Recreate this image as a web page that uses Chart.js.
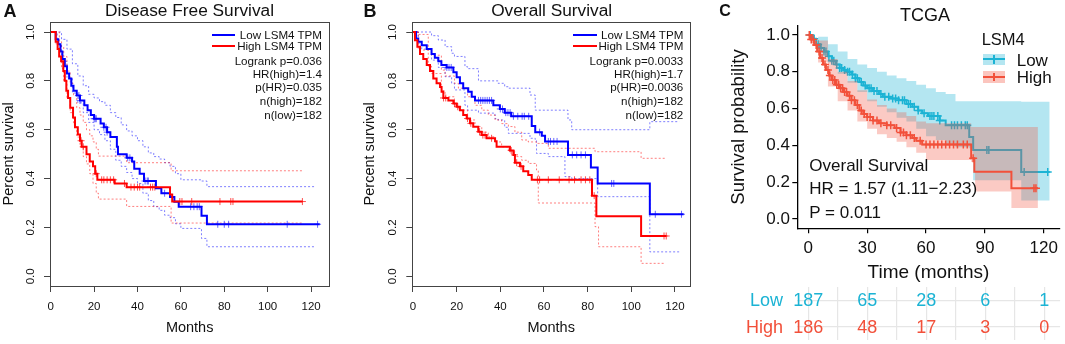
<!DOCTYPE html>
<html>
<head>
<meta charset="utf-8">
<script src="https://cdn.jsdelivr.net/npm/chart.js@4.4.0/dist/chart.umd.min.js"></script>
<style>
body{margin:0;width:1065px;height:344px;background:#fff;position:relative;overflow:hidden;font-family:"Liberation Sans",Arial,sans-serif;color:#111}
canvas{position:absolute}
.t{position:absolute;white-space:nowrap;line-height:1}
.c{transform:translate(-50%,-50%)}
.r{transform:translate(-100%,-50%)}
.l{transform:translate(0,-50%)}
.ln{position:absolute;height:2px}
</style>
</head>
<body>
<canvas id="cA" width="340" height="344" style="left:0;top:0"></canvas>
<canvas id="cB" width="345" height="344" style="left:355px;top:0"></canvas>
<canvas id="cC" width="350" height="285" style="left:715px;top:0"></canvas>
<canvas id="cR" width="350" height="59" style="left:715px;top:285px"></canvas>

<!-- panel A texts -->
<div class="t c" style="left:10px;top:10.5px;font-size:18px;font-weight:bold">A</div>
<div class="t c" style="left:189.5px;top:11px;font-size:17.3px">Disease Free Survival</div>
<div class="ln" style="left:212px;top:33.5px;width:23px;background:#0000ff"></div>
<div class="ln" style="left:212px;top:44.8px;width:23px;background:#ff0000"></div>
<div class="t r" style="left:322px;top:34.5px;font-size:11.6px">Low LSM4 TPM</div>
<div class="t r" style="left:322px;top:45.8px;font-size:11.6px">High LSM4 TPM</div>
<div class="t r" style="left:322px;top:60.7px;font-size:11.6px">Logrank p=0.036</div>
<div class="t r" style="left:322px;top:74px;font-size:11.6px">HR(high)=1.4</div>
<div class="t r" style="left:322px;top:87.4px;font-size:11.6px">p(HR)=0.035</div>
<div class="t r" style="left:322px;top:100.8px;font-size:11.6px">n(high)=182</div>
<div class="t r" style="left:322px;top:114.6px;font-size:11.6px">n(low)=182</div>

<!-- panel B texts -->
<div class="t c" style="left:370px;top:10.5px;font-size:18px;font-weight:bold">B</div>
<div class="t c" style="left:551.7px;top:11px;font-size:17.3px">Overall Survival</div>
<div class="ln" style="left:573.3px;top:33.5px;width:23.4px;background:#0000ff"></div>
<div class="ln" style="left:573.3px;top:44.8px;width:23.4px;background:#ff0000"></div>
<div class="t r" style="left:683.3px;top:34.5px;font-size:11.6px">Low LSM4 TPM</div>
<div class="t r" style="left:683.3px;top:45.8px;font-size:11.6px">High LSM4 TPM</div>
<div class="t r" style="left:683.3px;top:60.7px;font-size:11.6px">Logrank p=0.0033</div>
<div class="t r" style="left:683.3px;top:74px;font-size:11.6px">HR(high)=1.7</div>
<div class="t r" style="left:683.3px;top:87.4px;font-size:11.6px">p(HR)=0.0036</div>
<div class="t r" style="left:683.3px;top:100.8px;font-size:11.6px">n(high)=182</div>
<div class="t r" style="left:683.3px;top:114.6px;font-size:11.6px">n(low)=182</div>

<!-- panel C texts -->
<div class="t c" style="left:725px;top:10.5px;font-size:16px;font-weight:bold">C</div>
<div class="t c" style="left:925px;top:15px;font-size:18px">TCGA</div>
<div class="t l" style="left:809.3px;top:165px;font-size:17px">Overall Survival</div>
<div class="t l" style="left:809.3px;top:188.3px;font-size:17px">HR = 1.57 (1.11−2.23)</div>
<div class="t l" style="left:809.3px;top:212px;font-size:17px">P = 0.011</div>
<div class="t l" style="left:981.7px;top:39px;font-size:16.5px">LSM4</div>
<div style="position:absolute;left:983.3px;top:53.5px;width:21.7px;height:11.5px;background:rgba(27,179,212,0.33)"></div>
<div class="ln" style="left:983.3px;top:58.3px;width:21.7px;background:#1bb3d4"></div>
<div style="position:absolute;left:993.4px;top:55px;width:1.5px;height:8.5px;background:#1bb3d4"></div>
<div style="position:absolute;left:983.3px;top:71px;width:21.7px;height:11.5px;background:rgba(242,80,58,0.33)"></div>
<div class="ln" style="left:983.3px;top:75.8px;width:21.7px;background:#f2503a"></div>
<div style="position:absolute;left:993.4px;top:72.5px;width:1.5px;height:8.5px;background:#f2503a"></div>
<div class="t l" style="left:1016.7px;top:59.5px;font-size:17px">Low</div>
<div class="t l" style="left:1016.7px;top:77px;font-size:17px">High</div>

<script>
// ---------- panel A : disease free survival (GEPIA) ----------
const aLowT = [0, 2.3, 3.5, 4.5, 5.4, 6.5, 7.5, 8.5, 9.5, 10.5, 12, 13.5, 15.5, 17, 18.5, 20, 23, 24.5, 26, 27.5, 30.5, 31, 35, 37.5, 38.5, 41, 43, 48.5, 51, 55, 57, 59, 69.5, 72, 124];
const aLowS = [1, 0.97, 0.95, 0.92, 0.89, 0.86, 0.83, 0.81, 0.78, 0.76, 0.74, 0.72, 0.70, 0.68, 0.66, 0.645, 0.625, 0.61, 0.59, 0.57, 0.53, 0.50, 0.485, 0.47, 0.44, 0.42, 0.39, 0.36, 0.34, 0.325, 0.305, 0.285, 0.248, 0.213, 0.213];
const aLowCens = [13, 13.5, 20, 20.5, 21, 24.5, 25.5, 26, 35.5, 36.5, 43.5, 44.5, 45, 52.5, 64.5, 66, 67.5, 68.5, 77, 80, 82, 109, 123];
const aHighT = [0, 2.3, 3.2, 3.9, 4.8, 5.8, 6.5, 7.2, 8, 9, 10.3, 11.2, 12.5, 13.5, 14.3, 16.5, 18, 19.5, 20.5, 21.5, 29.5, 35, 55, 56, 116];
const aHighS = [1, 0.96, 0.93, 0.90, 0.88, 0.84, 0.80, 0.76, 0.73, 0.69, 0.65, 0.61, 0.58, 0.555, 0.53, 0.50, 0.47, 0.45, 0.42, 0.395, 0.38, 0.365, 0.335, 0.306, 0.306];
const aHighCens = [14, 15, 21, 23.5, 24.5, 26, 27.5, 29, 34, 37, 38.5, 40, 41, 46, 47, 48, 59.5, 60.5, 65, 78, 83, 84, 116];
const aLowCiT = [0, 3, 5, 7.5, 10, 12.5, 15, 17.5, 20, 22.5, 25, 27.5, 30, 32.5, 35, 37.5, 40, 42.5, 45, 47.5, 50, 52.5, 55, 57.5, 60, 69.5, 72, 122];
const aLowUp = [1, 1, 0.97, 0.93, 0.87, 0.82, 0.78, 0.745, 0.73, 0.715, 0.70, 0.67, 0.65, 0.62, 0.595, 0.575, 0.555, 0.53, 0.505, 0.49, 0.48, 0.465, 0.45, 0.42, 0.395, 0.39, 0.367, 0.367];
const aLowLo = [1, 0.95, 0.88, 0.81, 0.75, 0.71, 0.67, 0.63, 0.60, 0.58, 0.555, 0.52, 0.475, 0.45, 0.425, 0.40, 0.38, 0.34, 0.31, 0.285, 0.27, 0.25, 0.24, 0.215, 0.196, 0.155, 0.121, 0.121];
const aHighCiT = [0, 2.5, 4, 5, 6, 7.5, 9, 10.5, 12, 13.5, 15, 16.5, 18, 19.5, 21, 22, 30, 35, 55.5, 116];
const aHighUp = [1, 1, 0.96, 0.94, 0.90, 0.84, 0.79, 0.74, 0.69, 0.66, 0.63, 0.60, 0.575, 0.55, 0.52, 0.492, 0.492, 0.465, 0.432, 0.432];
const aHighLo = [1, 0.95, 0.90, 0.85, 0.80, 0.73, 0.67, 0.62, 0.57, 0.53, 0.49, 0.46, 0.42, 0.38, 0.34, 0.316, 0.316, 0.286, 0.218, 0.218];

// ---------- panel B : overall survival (GEPIA) ----------
const bLowT = [0, 1.4, 2.4, 4, 6.3, 8.5, 10, 11.6, 13, 15.4, 18.5, 20, 21.5, 23, 25.3, 26.9, 28.4, 36.8, 39.8, 42, 45, 54.4, 56, 59, 60.5, 71, 81.5, 84.6, 108.5, 124];
const bLowS = [1, 0.973, 0.96, 0.946, 0.93, 0.91, 0.895, 0.88, 0.865, 0.855, 0.835, 0.815, 0.79, 0.77, 0.755, 0.735, 0.72, 0.70, 0.685, 0.67, 0.655, 0.615, 0.59, 0.575, 0.552, 0.497, 0.445, 0.38, 0.254, 0.254];
const bLowCens = [15.5, 16.5, 17.5, 30, 31, 32, 33, 34, 35, 36, 40, 41, 42.5, 43.5, 44.5, 46, 48, 50, 51, 53, 58, 62, 63, 64.5, 66, 73, 75, 77, 79, 91, 92, 111, 123];
const bHighT = [0, 0.9, 2, 3.2, 4.7, 6.3, 7.8, 9.3, 10.8, 12.4, 13.1, 13.9, 16.2, 18.5, 20, 21.5, 23, 24.6, 26.1, 27.6, 29.9, 31.4, 33.7, 37.6, 38.3, 44.4, 46, 46.7, 49, 50.5, 52.8, 54.4, 82, 84, 104.5, 116];
const bHighS = [1, 0.966, 0.94, 0.91, 0.89, 0.865, 0.84, 0.81, 0.79, 0.775, 0.755, 0.73, 0.72, 0.707, 0.694, 0.68, 0.66, 0.646, 0.626, 0.612, 0.592, 0.578, 0.565, 0.553, 0.53, 0.515, 0.497, 0.465, 0.45, 0.43, 0.415, 0.395, 0.33, 0.246, 0.165, 0.165];
const bHighCens = [14, 15, 19, 20.5, 25, 26.5, 30.5, 32, 33, 36, 45, 46.5, 47.5, 49.5, 57, 58, 62, 67, 71.5, 74, 77, 79, 81, 83, 115, 116];
const bLowCiT = [0, 2.4, 4, 8.5, 11.6, 14.7, 17.7, 19, 23.8, 25, 30, 37.6, 39, 42, 43.7, 53.6, 56, 56.6, 62, 69.6, 71, 72.7, 84.6, 108.5, 122];
const bLowUp = [1, 1, 1, 0.985, 0.967, 0.94, 0.913, 0.90, 0.858, 0.85, 0.80, 0.80, 0.79, 0.776, 0.77, 0.742, 0.68, 0.68, 0.68, 0.68, 0.64, 0.60, 0.60, 0.633, 0.633];
const bLowLo = [1, 0.954, 0.93, 0.885, 0.855, 0.817, 0.79, 0.763, 0.70, 0.68, 0.668, 0.645, 0.64, 0.61, 0.585, 0.565, 0.558, 0.503, 0.49, 0.408, 0.408, 0.40, 0.326, 0.10, 0.10];
const bHighCiT = [0, 2.4, 7, 8.5, 13, 14.7, 19, 20.8, 25, 28.4, 31.5, 34.5, 37.6, 40.6, 43.7, 46.7, 49.8, 52.8, 56.6, 57.4, 62, 83.4, 85, 104.5, 115.4];
const bHighUp = [1, 0.99, 0.926, 0.905, 0.844, 0.82, 0.79, 0.77, 0.735, 0.70, 0.68, 0.66, 0.64, 0.625, 0.613, 0.59, 0.558, 0.55, 0.544, 0.544, 0.524, 0.51, 0.51, 0.483, 0.483];
const bHighLo = [1, 0.926, 0.86, 0.83, 0.76, 0.735, 0.70, 0.68, 0.64, 0.613, 0.59, 0.571, 0.55, 0.53, 0.51, 0.49, 0.475, 0.462, 0.435, 0.30, 0.30, 0.203, 0.121, 0.053, 0.053];

// ---------- panel C : TCGA overall survival ----------
const cLowT = [0, 2, 4, 6, 8, 10, 12, 14, 16, 18, 20, 22, 24, 26, 28, 30, 33, 36, 38, 42, 46, 50, 53, 56, 58, 61, 67, 70, 82, 84, 108.5, 123];
const cLowS = [1, 0.98, 0.95, 0.93, 0.91, 0.885, 0.86, 0.84, 0.82, 0.81, 0.80, 0.785, 0.765, 0.745, 0.725, 0.71, 0.695, 0.68, 0.665, 0.655, 0.645, 0.625, 0.61, 0.59, 0.575, 0.56, 0.535, 0.51, 0.445, 0.375, 0.255, 0.255];
const cLowCens = [1, 3, 5, 6.5, 8, 9, 10.5, 12, 13, 14.5, 16, 17, 18.5, 20, 21, 22.5, 24, 25, 27, 29, 31, 32, 33.5, 35, 37, 39, 41, 43, 44.5, 46, 48, 49, 51, 52, 54, 56, 59, 62, 63, 64, 66, 67, 73, 74.5, 76, 78, 80, 81, 91, 92, 110, 122];
const cHighT = [0, 1.5, 3, 4.5, 6, 7.5, 9, 10.5, 12, 14, 16, 18, 20, 22, 24, 26, 28, 30, 33, 36, 40, 44, 47, 50, 53, 55, 58, 83, 84.6, 103.5, 117];
const cHighS = [1, 0.975, 0.945, 0.91, 0.875, 0.84, 0.81, 0.78, 0.755, 0.73, 0.71, 0.69, 0.67, 0.645, 0.62, 0.59, 0.57, 0.555, 0.535, 0.52, 0.51, 0.495, 0.47, 0.455, 0.44, 0.425, 0.405, 0.33, 0.257, 0.167, 0.167];
const cHighCens = [0.5, 1.5, 2.5, 4, 5.5, 7, 8.5, 10, 11, 12.5, 13.5, 14.5, 15.5, 16.5, 17.5, 18.5, 19.5, 21, 22, 23.5, 25, 27, 28.5, 30, 31.5, 33, 35, 37, 40, 42, 45, 47, 48.5, 50, 52, 54, 57, 60, 62, 64, 66, 68, 70, 72, 74, 76, 79, 81, 84, 115, 116];
const cLowCiT = [0, 5, 10, 15, 20, 25, 30, 35, 40, 45, 50, 55, 60, 65, 70, 75, 82, 84, 108.5, 123];
const cLowUp = [1, 0.99, 0.95, 0.91, 0.87, 0.84, 0.82, 0.80, 0.78, 0.765, 0.75, 0.73, 0.71, 0.69, 0.68, 0.64, 0.64, 0.64, 0.637, 0.637];
const cLowLo = [1, 0.92, 0.85, 0.79, 0.74, 0.69, 0.64, 0.61, 0.58, 0.55, 0.53, 0.49, 0.45, 0.43, 0.41, 0.39, 0.385, 0.21, 0.10, 0.10];
const cHighCiT = [0, 5, 10, 15, 20, 25, 30, 35, 40, 45, 50, 55, 60, 83, 85, 103.5, 117];
const cHighUp = [1, 0.97, 0.87, 0.80, 0.75, 0.70, 0.65, 0.62, 0.60, 0.58, 0.56, 0.53, 0.52, 0.50, 0.50, 0.50, 0.50];
const cHighLo = [1, 0.85, 0.72, 0.64, 0.59, 0.53, 0.49, 0.46, 0.44, 0.42, 0.39, 0.36, 0.32, 0.31, 0.15, 0.06, 0.06];

// number at risk table
const riskRows = ['Low', 'High'];
const riskTimes = [0, 30, 60, 90, 120];
const riskLow = [187, 65, 28, 6, 1];
const riskHigh = [186, 48, 17, 3, 0];

// tick values
const gepiaXTicks = [0, 20, 40, 60, 80, 100, 120];
const cXTicks = [0, 30, 60, 90, 120];
const survTicks = [0, 0.2, 0.4, 0.6, 0.8, 1.0];
const riskGrid = [0, 15, 30, 45, 60, 75, 90, 105, 120];

const FONT = '"Liberation Sans", Arial, sans-serif';
Chart.defaults.font.family = FONT;
Chart.defaults.color = '#111';

const RED = '#ff0000', BLUE = '#0000ff';
const C_LOW = '#1bb3d4', C_HIGH = '#f2503a';

function pts(T, S) { return T.map((t, i) => ({ x: t, y: S[i] })); }
function stepAt(T, S, t) {
    let v = S[0];
    for (let i = 0; i < T.length; i++) if (T[i] <= t) v = S[i];
    return v;
}
function cens(T, S, C) { return C.map(t => ({ x: t, y: stepAt(T, S, t) })); }
function fixTicks(vals) { return s => { s.ticks = vals.map(v => ({ value: v })); }; }

// R style box around the plot region
const boxPlugin = {
    id: 'box',
    afterDraw(chart) {
        const a = chart.chartArea, c = chart.ctx;
        c.save();
        c.strokeStyle = '#444';
        c.lineWidth = 1;
        c.strokeRect(Math.round(a.left) + 0.5, Math.round(a.top) + 0.5, Math.round(a.right - a.left), Math.round(a.bottom - a.top));
        c.restore();
    }
};

function gepia(id, p) {
    const dot = (T, S, col) => ({ data: pts(T, S), borderColor: col, borderWidth: 1, borderDash: [2, 2], stepped: true, pointRadius: 0 });
    const mark = (T, S, C, col) => ({ data: cens(T, S, C), showLine: false, pointStyle: 'cross', pointRadius: 3.5, borderColor: col, pointBorderColor: col, pointBorderWidth: 1 });
    return new Chart(document.getElementById(id), {
        type: 'line',
        data: {
            datasets: [
                { data: pts(p.hT, p.hS), borderColor: RED, borderWidth: 2, stepped: true, pointRadius: 0 },
                { data: pts(p.lT, p.lS), borderColor: BLUE, borderWidth: 2, stepped: true, pointRadius: 0 },
                mark(p.hT, p.hS, p.hC, 'rgba(255,0,0,0.7)'),
                mark(p.lT, p.lS, p.lC, 'rgba(0,0,255,0.6)'),
                dot(p.hCiT, p.hUp, 'rgba(255,0,0,0.5)'),
                dot(p.hCiT, p.hLo, 'rgba(255,0,0,0.5)'),
                dot(p.lCiT, p.lUp, 'rgba(0,0,255,0.5)'),
                dot(p.lCiT, p.lLo, 'rgba(0,0,255,0.5)')
            ]
        },
        options: {
            responsive: false, animation: false, devicePixelRatio: 1,
            layout: { padding: { left: 0, top: 21.7, right: p.padRight, bottom: 0 } },
            plugins: { legend: { display: false }, tooltip: { enabled: false } },
            scales: {
                x: {
                    type: 'linear', min: -0.32, max: p.xMax,
                    afterBuildTicks: fixTicks(gepiaXTicks),
                    ticks: { autoSkip: false, maxRotation: 0, padding: 7.5, font: { size: 11.5 }, color: '#111' },
                    grid: { drawOnChartArea: false, tickLength: 6, color: '#444' },
                    border: { display: false },
                    title: { display: true, text: 'Months', font: { size: 14.5 }, color: '#111', padding: { top: 0, bottom: 7.3 } },
                    afterFit: s => { s.height = 58; }
                },
                y: {
                    min: -0.0397, max: 1.0422,
                    afterBuildTicks: fixTicks(survTicks),
                    ticks: { autoSkip: false, minRotation: 90, maxRotation: 90, crossAlign: 'center', padding: 5, font: { size: 11.5 }, color: '#111', callback: v => v.toFixed(1) },
                    grid: { drawOnChartArea: false, tickLength: 6, color: '#444' },
                    border: { display: false },
                    title: { display: true, text: 'Percent survival', font: { size: 14.5 }, color: '#111', padding: { top: p.titlePad, bottom: 0 } },
                    afterFit: s => { s.width = p.yWidth; }
                }
            }
        },
        plugins: [boxPlugin]
    });
}

gepia('cA', {
    lT: aLowT, lS: aLowS, lC: aLowCens, hT: aHighT, hS: aHighS, hC: aHighCens,
    lCiT: aLowCiT, lUp: aLowUp, lLo: aLowLo, hCiT: aHighCiT, hUp: aHighUp, hLo: aHighLo,
    xMax: 128.4, padRight: 10.7, yWidth: 50, titlePad: 0.3
});
gepia('cB', {
    lT: bLowT, lS: bLowS, lC: bLowCens, hT: bHighT, hS: bHighS, hC: bHighCens,
    lCiT: bLowCiT, lUp: bLowUp, lLo: bLowLo, hCiT: bHighCiT, hUp: bHighUp, hLo: bHighLo,
    xMax: 126.9, padRight: 10, yWidth: 57.3, titlePad: 6.3
});

// ---------- TCGA panel ----------
const band = (T, S, col, fill) => ({ data: pts(T, S), borderColor: 'transparent', borderWidth: 1, stepped: true, pointRadius: 0, fill: fill, backgroundColor: col });
const plus = (T, S, C, col) => ({ data: cens(T, S, C), showLine: false, pointStyle: 'cross', pointRadius: 4, borderColor: col, pointBorderColor: col, pointBorderWidth: 1.5 });

new Chart(document.getElementById('cC'), {
    type: 'line',
    data: {
        datasets: [
            { data: pts(cHighT, cHighS), borderColor: C_HIGH, borderWidth: 2, stepped: true, pointRadius: 0 },
            plus(cHighT, cHighS, cHighCens, C_HIGH),
            band(cHighCiT, cHighUp, 'rgba(242,80,58,0.3)', '+1'),
            band(cHighCiT, cHighLo, 'transparent', false),
            { data: pts(cLowT, cLowS), borderColor: C_LOW, borderWidth: 2, stepped: true, pointRadius: 0 },
            plus(cLowT, cLowS, cLowCens, C_LOW),
            band(cLowCiT, cLowUp, 'rgba(27,179,212,0.33)', '+1'),
            band(cLowCiT, cLowLo, 'transparent', false)
        ]
    },
    options: {
        responsive: false, animation: false, devicePixelRatio: 1,
        layout: { padding: { left: 0, top: 25.8, right: 4.9, bottom: 0 } },
        plugins: { legend: { display: false }, tooltip: { enabled: false } },
        scales: {
            x: {
                type: 'linear', min: -5.6, max: 128,
                afterBuildTicks: fixTicks(cXTicks),
                ticks: { autoSkip: false, maxRotation: 0, padding: 4.5, font: { size: 17 }, color: '#111' },
                grid: { drawOnChartArea: false, tickLength: 5, color: '#000', lineWidth: 1.2 },
                border: { display: true, color: '#000', width: 1.3 },
                title: { display: true, text: 'Time (months)', font: { size: 19 }, color: '#111', padding: { top: 0, bottom: 0.6 } },
                afterFit: s => { s.height = 56.8; }
            },
            y: {
                min: -0.05, max: 1.05,
                afterBuildTicks: fixTicks(survTicks),
                ticks: { autoSkip: false, padding: 2.3, font: { size: 17 }, color: '#111', callback: v => v.toFixed(1) },
                grid: { drawOnChartArea: false, tickLength: 5, color: '#000', lineWidth: 1.2 },
                border: { display: true, color: '#000', width: 1.3 },
                title: { display: true, text: 'Survival probability', font: { size: 18.5 }, color: '#111', padding: { top: 12.9, bottom: 0 } },
                afterFit: s => { s.width = 82.3; }
            }
        }
    }
});

// numbers at risk and row names, placed through the table's own scales
const riskNums = {
    id: 'riskNums',
    afterDatasetsDraw(chart) {
        const ctx = chart.ctx, ys = chart.scales.y;
        ctx.save();
        ctx.font = '18px ' + FONT;
        ctx.textBaseline = 'middle';
        chart.data.datasets.forEach((ds, i) => {
            ctx.fillStyle = ds.textColor;
            ctx.textAlign = 'right';
            ctx.fillText(ds.label, chart.chartArea.left - 14.3, ys.getPixelForValue(i) + 1);
            ctx.textAlign = 'center';
            chart.getDatasetMeta(i).data.forEach((el, j) => {
                ctx.fillText(String(ds.data[j].n), el.x, el.y + 1);
            });
        });
        ctx.restore();
    }
};

new Chart(document.getElementById('cR'), {
    type: 'line',
    data: {
        datasets: [
            { label: 'Low', data: riskTimes.map((t, i) => ({ x: t, y: 'Low', n: riskLow[i] })), showLine: false, pointRadius: 0, textColor: C_LOW },
            { label: 'High', data: riskTimes.map((t, i) => ({ x: t, y: 'High', n: riskHigh[i] })), showLine: false, pointRadius: 0, textColor: C_HIGH }
        ]
    },
    options: {
        responsive: false, animation: false, devicePixelRatio: 1,
        layout: { padding: { left: 0, top: 2, right: 4.9, bottom: 0 } },
        plugins: { legend: { display: false }, tooltip: { enabled: false } },
        scales: {
            x: {
                type: 'linear', min: -5.6, max: 128,
                afterBuildTicks: fixTicks(riskGrid),
                ticks: { display: false },
                grid: { color: '#e6e6e6', lineWidth: 1.2, drawTicks: false },
                border: { display: false },
                afterFit: s => { s.height = 4; }
            },
            y: {
                type: 'category', labels: riskRows, offset: true,
                ticks: { display: false },
                grid: { offset: false, color: '#e6e6e6', lineWidth: 1.2, drawTicks: false },
                border: { display: false },
                afterFit: s => { s.width = 82.3; }
            }
        }
    },
    plugins: [riskNums]
});
</script>
</body>
</html>
